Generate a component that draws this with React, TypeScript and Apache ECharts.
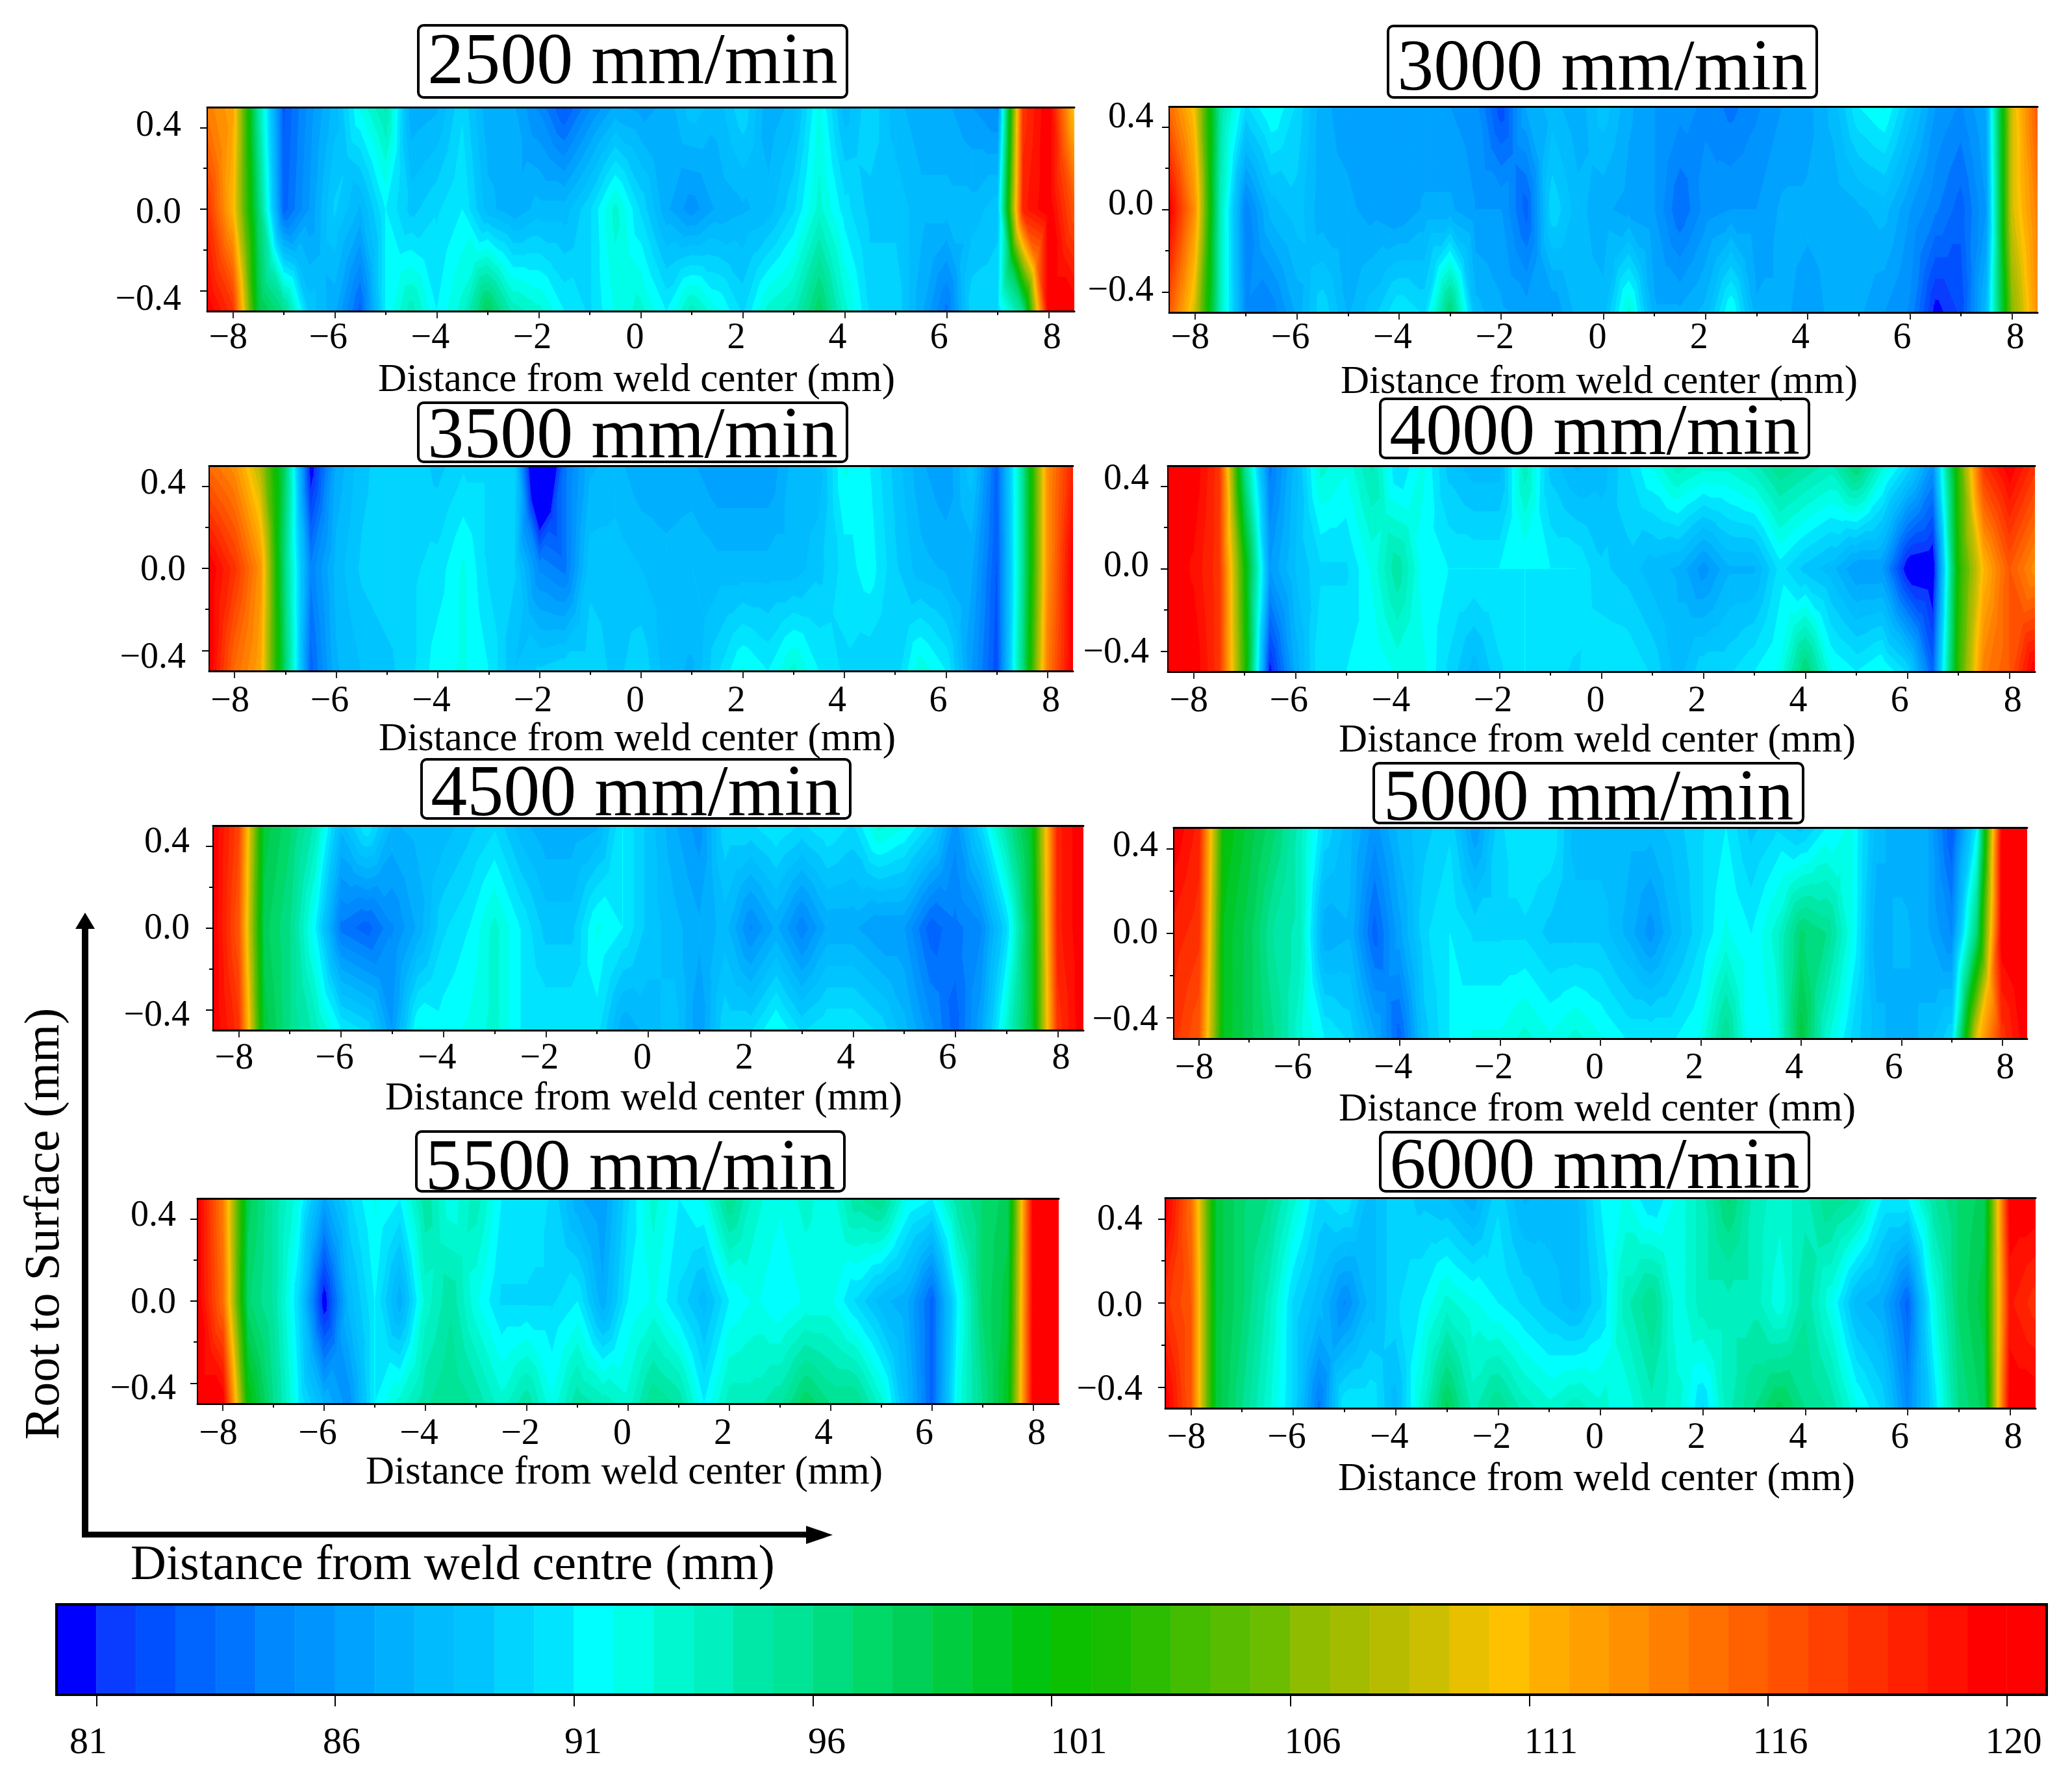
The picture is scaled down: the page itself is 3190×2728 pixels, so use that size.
import React, { useEffect, useRef } from "react";
import * as echarts from "echarts";

const FONT = "Liberation Serif";

const xColumns = [-8.5, -8, -7.5, -7, -6.5, -6, -5.5, -5, -4.5, -4, -3.5, -3, -2.5, -2, -1.5, -1, -0.5, 0, 0.5, 1, 1.5, 2, 2.5, 3, 3.5, 4, 4.5, 5, 5.5, 6, 6.5, 7, 7.5, 8, 8.5];
const yRows = [-0.5, 0, 0.5];

const h2500Top = [114, 112, 95, 82.5, 85.5, 88, 92, 94.5, 87, 87.5, 90, 87, 87, 85, 82.5, 85, 87, 86.5, 87, 89, 88, 90, 87, 88, 92, 88, 90, 88, 87, 87, 86, 85, 118, 121, 110];
const h2500Mid = [118, 111, 97, 83, 86, 89.5, 87.5, 91, 89, 90, 91, 88, 87, 88, 88, 90, 93, 90, 87, 85.5, 87, 87.5, 88, 90, 93, 90.5, 89, 89, 88, 88, 88, 89, 119, 121, 116];
const h2500Bot = [121, 118, 99, 96, 89, 87, 83, 91, 94, 91, 93, 98, 94, 93, 91, 90, 92, 93, 91, 94, 92, 90, 93, 94, 97.5, 93, 90, 90, 87, 84, 90, 90, 96, 121, 121];

const h3000Top = [115, 110, 95, 90, 92, 90, 87, 86.5, 86, 86, 86, 86, 85.5, 82, 87, 88, 87, 89, 87, 86, 85.5, 85, 84, 85, 86, 86.5, 88, 91, 92, 89, 86, 85, 87, 109, 116];
const h3000Mid = [121, 113, 94, 84.5, 88, 89, 87, 87, 86.5, 86, 87, 87, 86, 86, 83, 90, 88, 87, 86.5, 86, 83.5, 85.5, 86, 86, 87, 87, 87, 87.5, 88, 86, 84.5, 83, 86, 109, 114];
const h3000Bot = [116, 109, 94, 85, 84.5, 87, 90, 87.5, 89, 91, 90, 97, 88, 87, 86.5, 86, 88, 88, 93, 87, 87, 88, 92, 87, 87, 86.5, 87, 87, 86, 85, 80.5, 82, 88, 106, 113];

const h3500Top = [115, 113, 108, 97, 80, 87, 89, 90, 90, 89, 90, 90, 90, 74, 84, 87.5, 88, 87, 87, 87, 86, 86, 86, 88, 88, 92, 91, 89, 87, 86, 89, 83, 95, 113, 119];
const h3500Mid = [121, 118, 113, 96, 84.5, 88, 89.5, 90, 90, 90.5, 92, 90, 89.5, 85, 84, 89, 89, 88.5, 88, 88.5, 88, 88, 88, 88, 89, 90.5, 91.5, 89.5, 88, 87.5, 87, 82.5, 95, 113, 121];
const h3500Bot = [121, 115, 112, 97, 83, 87.5, 88.5, 89, 90, 91.5, 92, 91, 88.5, 89.5, 90, 90, 89, 90, 88, 87.5, 90, 92, 91, 93, 91, 90, 89.5, 89.5, 92.5, 91, 86, 82, 96, 114, 121];

const h4000Top = [121, 121, 118, 96, 84, 88, 93, 92, 94.5, 90, 92, 89, 88, 88, 94, 89, 87.5, 88, 90, 92, 94, 93, 93, 94, 96, 95, 94, 97, 93, 90, 85.5, 103, 118, 121, 118];
const h4000Mid = [121, 120, 118, 102, 86, 88.5, 90, 90, 92, 95, 91.5, 91, 91, 91, 91, 91, 91, 89.5, 89, 88, 87.5, 85.5, 87.5, 87.5, 90.5, 89, 88, 86, 86, 80, 79.5, 102, 111, 116, 113];
const h4000Bot = [121, 121, 118, 103, 80.5, 87, 91, 91, 91, 92, 92, 90, 88, 90, 91, 90.5, 90, 91, 91, 90, 88, 90, 90, 91, 92, 97, 92, 91, 92, 90, 83, 103, 114, 116, 121];

const h4500Top = [121, 117, 99, 97, 94, 88, 91, 87.5, 88, 88, 89, 90, 88, 87, 87, 87.5, 91, 89, 87, 85.5, 90, 90, 91, 90, 91, 90, 93, 92, 90, 85.5, 90, 95, 100, 119, 121];
const h4500Mid = [121, 116, 98, 96, 91, 84, 83, 85, 87, 90, 91, 93, 91, 89, 89, 92, 91, 89, 88, 87, 88, 85, 87, 84.5, 87, 87, 86, 86, 83, 84, 85, 90, 99, 119, 121];
const h4500Bot = [121, 118, 99, 96, 94, 91, 90, 86, 92, 91.5, 92, 93, 91, 91, 91, 90.5, 87, 88, 89, 86, 90, 90, 92, 90, 91, 91, 90, 88, 85.5, 83, 86.5, 93, 99, 118, 121];

const h5000Top = [121, 119, 101, 99, 97, 94, 90, 88, 85.5, 88, 89, 90, 86, 90, 91, 91, 88, 88, 88, 88, 89, 90, 91, 89, 90, 89, 91, 92, 88, 87, 87, 82.5, 91, 121, 121];
const h5000Mid = [119, 118, 100, 98, 95, 94, 87, 87.5, 83, 86.5, 90, 91, 90, 90, 90, 89, 89, 89, 87.5, 85.5, 88, 90, 92, 91, 93, 97, 96, 92, 87, 88, 87, 85, 97, 121, 121];
const h5000Bot = [118, 116, 100, 98, 96, 93, 91, 90, 87, 83, 89, 91, 92, 92, 93, 92, 93, 92, 91, 91, 91, 92, 96, 91, 92, 99, 93, 90, 88, 87, 88, 90, 110, 118, 121];

const h5500Top = [121, 114, 98, 95, 92, 86.5, 90, 92, 91, 95, 92, 94, 91, 91, 90, 87, 86, 90, 93, 91, 92, 96, 93, 92, 93, 92, 95, 96, 92, 91, 95, 97, 98, 121, 121];
const h5500Mid = [121, 115, 97, 95, 90, 80, 88, 91, 87, 93, 95, 92, 90, 90, 90, 91, 87, 91, 92, 90, 88, 91, 92, 91, 92, 92, 90, 88, 87, 83, 91, 97, 99, 121, 121];
const h5500Bot = [121, 121, 101, 96, 91, 87.5, 85.5, 91, 93, 95, 96, 95, 93, 95, 92, 95, 94, 93, 96, 95, 91, 94, 94, 95, 97.5, 96, 96, 93, 88, 83, 92, 96, 100, 121, 121];

const h6000Top = [121, 115, 99, 97, 96, 93, 90, 91, 88, 90, 89, 88.5, 87, 90, 87.5, 88, 88, 91, 92, 90, 92, 94, 97, 94, 93, 94, 96, 95, 91, 91, 95, 97, 98, 121, 121];
const h6000Mid = [118, 116, 99, 97, 94, 90, 88, 85, 88, 90, 91, 93, 92, 91, 90, 89, 88, 90, 94, 96, 92, 94, 94, 94, 92, 95, 92, 88, 87, 83, 92, 97, 99, 119.5, 118];
const h6000Bot = [121, 116, 99, 96, 93, 90, 84, 91, 91, 88, 93, 98, 94, 96, 94, 93, 94, 93, 92, 94, 93, 90, 94, 96, 98, 96, 95, 92, 90, 85, 90, 96, 98, 121, 121];

const panelTitles = ["2500 mm/min", "3000 mm/min", "3500 mm/min", "4000 mm/min", "4500 mm/min", "5000 mm/min", "5500 mm/min", "6000 mm/min"];
const panelRows = [
  [h2500Bot, h2500Mid, h2500Top],
  [h3000Bot, h3000Mid, h3000Top],
  [h3500Bot, h3500Mid, h3500Top],
  [h4000Bot, h4000Mid, h4000Top],
  [h4500Bot, h4500Mid, h4500Top],
  [h5000Bot, h5000Mid, h5000Top],
  [h5500Bot, h5500Mid, h5500Top],
  [h6000Bot, h6000Mid, h6000Top],
];

const xMajorTicks = [-8, -6, -4, -2, 0, 2, 4, 6, 8];
const xMinorTicks = [-7, -5, -3, -1, 1, 3, 5, 7];
const yMajorTicks = [-0.4, 0, 0.4];
const yMinorTicks = [-0.2, 0.2];
const xAxisName = "Distance from weld center (mm)";

const colorbarTickValues = [81, 86, 91, 96, 101, 106, 111, 116, 121];
const colorbarTickLabels = ["81", "86", "91", "96", "101", "106", "111", "116", "120"];
const bandColors = [
  "#0000ff", "#0a3cff", "#0050ff", "#0064ff", "#0074ff", "#0088ff", "#0094ff", "#00a2ff", "#00b0ff", "#00bcff",
  "#00c4ff", "#00d4ff", "#00e4ff", "#00ffff", "#00ffe8", "#00f8d0", "#00f0c0", "#00e8a8", "#00e498", "#00dc80",
  "#00d868", "#00d058", "#00cc40", "#00c828", "#00c410", "#0cc000", "#18bc00", "#2cbc00", "#44bc00", "#58bc00",
  "#6cbc00", "#90bc00", "#a4bc00", "#b8bc00", "#ccbe00", "#e8c000", "#ffc000", "#ffae00", "#ffa000", "#ff9000",
  "#ff8000", "#ff7000", "#ff6000", "#ff5000", "#ff4000", "#ff3000", "#ff2000", "#ff1000", "#ff0000", "#ff0000",
];

// Layout, in page pixels
const plotBoxes = [
  { l: 319, r: 1654, t: 165, b: 479 },
  { l: 1800, r: 3137, t: 164, b: 481 },
  { l: 322, r: 1652, t: 717, b: 1033 },
  { l: 1798, r: 3133, t: 717, b: 1034 },
  { l: 328, r: 1668, t: 1271, b: 1586 },
  { l: 1807, r: 3121, t: 1274, b: 1599 },
  { l: 304, r: 1630, t: 1845, b: 2161 },
  { l: 1794, r: 3134, t: 1844, b: 2168 },
];
const titleBoxes = [
  { l: 644, r: 1304, t: 39, b: 150, cy: 90 },
  { l: 2137, r: 2797, t: 40, b: 150, cy: 100 },
  { l: 644, r: 1304, t: 620, b: 711, cy: 666 },
  { l: 2125, r: 2785, t: 614, b: 705, cy: 661 },
  { l: 649, r: 1309, t: 1169, b: 1260, cy: 1217 },
  { l: 2115, r: 2776, t: 1175, b: 1267, cy: 1224 },
  { l: 641, r: 1300, t: 1742, b: 1834, cy: 1793 },
  { l: 2125, r: 2785, t: 1743, b: 1834, cy: 1791 },
];
const axisNameCenters = [[980, 581], [2462, 584], [981, 1134], [2459, 1136], [991, 1687], [2459, 1704], [961, 2263], [2458, 2273]];
const xLabelMargins = [10, 8, 15, 14, 12, 14, 15, 14];
const yLabelMargins = [40, 24, 36, 29, 36, 24, 33, 35];
const xLabelShiftPx = [-7, -10, -10, -10, -9, -10, -11, -12, 5];
const yLabelShiftPx = [
  [10, 2, -6], [-5, -12, -19], [8, -1, -8], [-1, -8, -15], [5, -3, -10], [0, -4, -8], [6, -1, -9], [0, 1, -2],
];
const colorbarBox = { l: 87, r: 3151, t: 2470, b: 2609 };
const colorbarLabelCenters = [136, 526, 898, 1273, 1661, 2021, 2388, 2741, 3100];

const bandOf = (v: number) => (v < 81 ? 0 : Math.min(49, 1 + Math.floor(((v - 81) * 6) / 5)));
const bandLow = (i: number) => (i === 0 ? -Infinity : 81 + ((i - 1) * 5) / 6);
const bandHigh = (i: number) => (i === 49 ? Infinity : 81 + (i * 5) / 6);

type V = [number, number, number];
function clipBy(poly: V[], level: number, above: boolean): V[] {
  if (!isFinite(level)) return poly;
  const out: V[] = [];
  const keep = (p: V) => (above ? p[2] >= level : p[2] <= level);
  for (let i = 0; i < poly.length; i++) {
    const a = poly[i];
    const b = poly[(i + 1) % poly.length];
    const ka = keep(a);
    const kb = keep(b);
    if (ka) out.push(a);
    if (ka !== kb) {
      const t = (level - a[2]) / (b[2] - a[2]);
      out.push([a[0] + (b[0] - a[0]) * t, a[1] + (b[1] - a[1]) * t, level]);
    }
  }
  return out;
}

function renderContourCell(_p: any, api: any) {
  const xl = api.value(0), xr = api.value(1), yb = api.value(2), yt = api.value(3);
  const vBL = api.value(4), vBR = api.value(5), vTL = api.value(6), vTR = api.value(7);
  const pix = (x: number, y: number, v: number): V => {
    const c = api.coord([x, y]);
    return [c[0], c[1], v];
  };
  const BL = pix(xl, yb, vBL), BR = pix(xr, yb, vBR), TL = pix(xl, yt, vTL), TR = pix(xr, yt, vTR);
  const C = pix((xl + xr) / 2, (yb + yt) / 2, (vBL + vBR + vTL + vTR) / 4);
  const tris: V[][] = [[BL, BR, C], [BR, TR, C], [TR, TL, C], [TL, BL, C]];
  const children: any[] = [];
  for (const tri of tris) {
    const vs = tri.map((p) => p[2]);
    const a = bandOf(Math.min(...vs));
    const b = bandOf(Math.max(...vs));
    for (let i = a; i <= b; i++) {
      const poly = clipBy(clipBy(tri, bandLow(i), true), bandHigh(i), false);
      if (poly.length < 3) continue;
      children.push({
        type: "polygon",
        shape: { points: poly.map((p) => [p[0], p[1]]) },
        style: { fill: bandColors[i], stroke: bandColors[i], lineWidth: 1 },
        silent: true,
      });
    }
  }
  return { type: "group", children };
}

function nearestLabel(value: number, positions: number[], labels: string[]) {
  let best = 0;
  positions.forEach((p, i) => {
    if (Math.abs(p - value) < Math.abs(positions[best] - value)) best = i;
  });
  return labels[best];
}

const tickText = (v: number, digits: number) => (v < 0 ? "\u2212" : "") + Math.abs(v).toFixed(digits);

function buildOption() {
  const grid: any[] = [];
  const xAxis: any[] = [];
  const yAxis: any[] = [];
  const series: any[] = [];
  const graphic: any[] = [];
  const textBase = { fontFamily: FONT, fill: "#000", align: "center", verticalAlign: "middle" };

  plotBoxes.forEach((box, k) => {
    grid.push({ left: box.l, top: box.t, width: box.r - box.l, height: box.b - box.t, show: false });
    const xPx = (box.r - box.l) / 17;
    const yPx = box.b - box.t;
    const xLabelPos = xMajorTicks.map((v, i) => v + xLabelShiftPx[i] / xPx);
    const xLabelTxt = xMajorTicks.map((v) => tickText(v, 0));
    const yLabelPos = yMajorTicks.map((v, i) => v - yLabelShiftPx[k][i] / yPx);
    const yLabelTxt = yMajorTicks.map((v) => tickText(v, 1));
    const xBase = { type: "value", gridIndex: k, min: -8.5, max: 8.5, splitLine: { show: false }, z: 10 };
    const yBase = { type: "value", gridIndex: k, min: -0.5, max: 0.5, splitLine: { show: false }, z: 10 };
    const firstX = xAxis.length;
    const firstY = yAxis.length;
    xAxis.push({
      ...xBase,
      position: "bottom",
      axisLine: { show: true, onZero: false, lineStyle: { color: "#000", width: 3 } },
      axisTick: { show: true, length: 11, customValues: xMajorTicks, lineStyle: { color: "#222", width: 2 } },
      axisLabel: {
        show: true,
        customValues: xLabelPos,
        margin: xLabelMargins[k],
        fontFamily: FONT,
        fontSize: 56,
        color: "#000",
        formatter: (v: number) => nearestLabel(v, xLabelPos, xLabelTxt),
      },
    });
    xAxis.push({
      ...xBase,
      position: "bottom",
      axisLine: { show: false, onZero: false },
      axisTick: { show: true, length: 6, customValues: xMinorTicks, lineStyle: { color: "#000", width: 2 } },
      axisLabel: { show: false },
    });
    xAxis.push({
      ...xBase,
      position: "top",
      axisLine: { show: true, onZero: false, lineStyle: { color: "#000", width: 3 } },
      axisTick: { show: false },
      axisLabel: { show: false },
    });
    yAxis.push({
      ...yBase,
      position: "left",
      axisLine: { show: true, onZero: false, lineStyle: { color: "#000", width: 2 } },
      axisTick: { show: true, length: 11, customValues: yMajorTicks, lineStyle: { color: "#000", width: 2 } },
      axisLabel: {
        show: true,
        customValues: yLabelPos,
        margin: yLabelMargins[k],
        fontFamily: FONT,
        fontSize: 56,
        color: "#000",
        formatter: (v: number) => nearestLabel(v, yLabelPos, yLabelTxt),
      },
    });
    yAxis.push({
      ...yBase,
      position: "left",
      axisLine: { show: false, onZero: false },
      axisTick: { show: true, length: 6, customValues: yMinorTicks, lineStyle: { color: "#000", width: 2 } },
      axisLabel: { show: false },
    });

    const rows = panelRows[k];
    const cells: number[][] = [];
    for (let r = 0; r < yRows.length - 1; r++) {
      for (let c = 0; c < xColumns.length - 1; c++) {
        cells.push([
          xColumns[c], xColumns[c + 1], yRows[r], yRows[r + 1],
          rows[r][c], rows[r][c + 1], rows[r + 1][c], rows[r + 1][c + 1],
        ]);
      }
    }
    series.push({
      type: "custom",
      name: panelTitles[k],
      xAxisIndex: firstX,
      yAxisIndex: firstY,
      coordinateSystem: "cartesian2d",
      renderItem: renderContourCell,
      encode: { x: [0, 1], y: [2, 3] },
      data: cells,
      silent: true,
      clip: true,
      z: 2,
    });

    const tb = titleBoxes[k];
    graphic.push({
      type: "rect",
      z: 50,
      shape: { x: tb.l, y: tb.t, width: tb.r - tb.l, height: tb.b - tb.t, r: 8 },
      style: { fill: "#fff", stroke: "#000", lineWidth: 4 },
    });
    graphic.push({
      type: "text",
      z: 51,
      x: (tb.l + tb.r) / 2,
      y: tb.cy,
      style: { ...textBase, text: panelTitles[k], fontSize: 112 },
    });
    graphic.push({
      type: "text",
      z: 51,
      x: axisNameCenters[k][0],
      y: axisNameCenters[k][1],
      style: { ...textBase, text: xAxisName, fontSize: 61 },
    });
  });

  // Colour bar
  const cbIndex = plotBoxes.length;
  const cbLeftValue = 81 - 5 / 6;
  const cbRightValue = 81 + (49 * 5) / 6;
  grid.push({
    left: colorbarBox.l,
    top: colorbarBox.t,
    width: colorbarBox.r - colorbarBox.l,
    height: colorbarBox.b - colorbarBox.t,
    show: false,
  });
  const cbX = xAxis.length;
  const cbY = yAxis.length;
  xAxis.push({
    type: "value",
    gridIndex: cbIndex,
    min: cbLeftValue,
    max: cbRightValue,
    splitLine: { show: false },
    axisLine: { show: false, onZero: false },
    axisTick: { show: true, length: 18, customValues: colorbarTickValues, lineStyle: { color: "#000", width: 2 } },
    axisLabel: { show: false },
    z: 10,
  });
  yAxis.push({ type: "value", gridIndex: cbIndex, min: 0, max: 1, show: false });
  series.push({
    type: "custom",
    name: "colorbar",
    xAxisIndex: cbX,
    yAxisIndex: cbY,
    coordinateSystem: "cartesian2d",
    encode: { x: [0, 1] },
    silent: true,
    data: bandColors.map((_c, i) => [cbLeftValue + (i * 5) / 6, cbLeftValue + ((i + 1) * 5) / 6, i]),
    renderItem: (_p: any, api: any) => {
      const a = api.coord([api.value(0), 1]);
      const b = api.coord([api.value(1), 0]);
      const color = bandColors[api.value(2)];
      return {
        type: "rect",
        shape: { x: a[0], y: a[1], width: b[0] - a[0], height: b[1] - a[1] },
        style: { fill: color, stroke: color, lineWidth: 0.5 },
      };
    },
    z: 2,
  });
  graphic.push({
    type: "rect",
    z: 50,
    shape: { x: colorbarBox.l, y: colorbarBox.t, width: colorbarBox.r - colorbarBox.l, height: colorbarBox.b - colorbarBox.t },
    style: { fill: "transparent", stroke: "#000", lineWidth: 4 },
  });
  colorbarTickLabels.forEach((t, i) => {
    graphic.push({
      type: "text",
      z: 51,
      x: colorbarLabelCenters[i],
      y: 2679,
      style: { ...textBase, text: t, fontSize: 58 },
    });
  });

  // Overall direction arrows and their labels
  graphic.push({ type: "rect", z: 50, shape: { x: 126, y: 1425, width: 10, height: 942 }, style: { fill: "#000" } });
  graphic.push({
    type: "polygon",
    z: 50,
    shape: { points: [[131, 1405], [146, 1430], [116, 1430]] },
    style: { fill: "#000" },
  });
  graphic.push({ type: "rect", z: 50, shape: { x: 126, y: 2358, width: 1120, height: 9 }, style: { fill: "#000" } });
  graphic.push({
    type: "polygon",
    z: 50,
    shape: { points: [[1282, 2363], [1241, 2349], [1241, 2377]] },
    style: { fill: "#000" },
  });
  graphic.push({
    type: "text",
    z: 51,
    x: 64,
    y: 1884,
    rotation: Math.PI / 2,
    style: { ...textBase, text: "Root to Surface (mm)", fontSize: 76 },
  });
  graphic.push({
    type: "text",
    z: 51,
    x: 697,
    y: 2405,
    style: { ...textBase, text: "Distance from weld centre (mm)", fontSize: 76 },
  });

  return { animation: false, backgroundColor: "#fff", grid, xAxis, yAxis, series, graphic };
}

export default function App() {
  const ref = useRef<HTMLDivElement>(null);
  useEffect(() => {
    const chart = echarts.init(ref.current!, undefined, { renderer: "svg" });
    chart.setOption(buildOption() as any);
    return () => chart.dispose();
  }, []);
  return <div ref={ref} style={{ position: "fixed", left: 0, top: 0, width: 3190, height: 2728, background: "#fff" }} />;
}
